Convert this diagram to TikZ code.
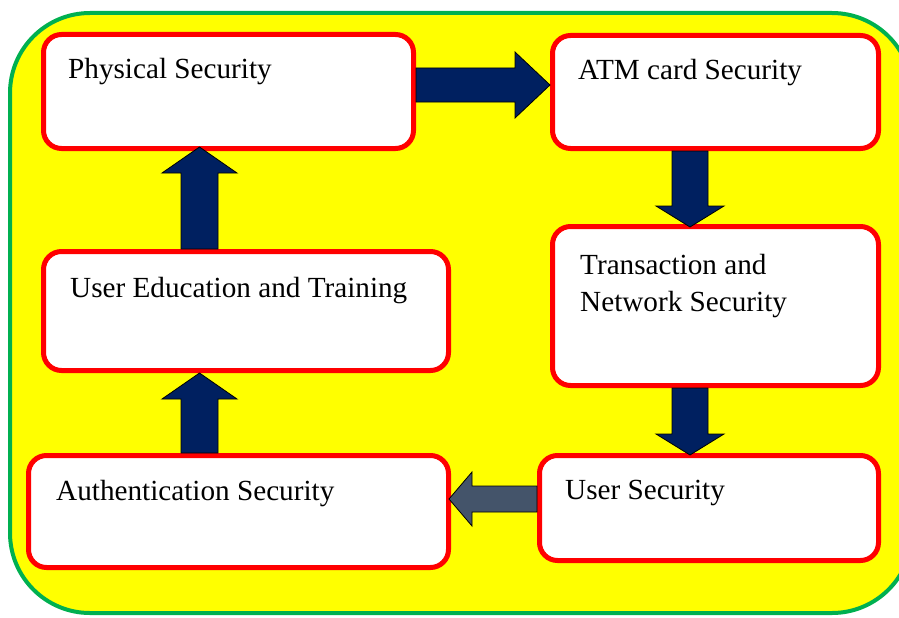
\documentclass[tikz,border=0pt]{standalone}
\usepackage{fontspec}
\setmainfont{Liberation Serif}
\usetikzlibrary{calc}

\definecolor{boxred}{HTML}{FF0000}
\definecolor{framegreen}{HTML}{00B050}
\definecolor{frameyellow}{HTML}{FFFF00}
\definecolor{navyarrow}{HTML}{002060}
\definecolor{slatearrow}{HTML}{44546A}

% fat block arrow: style, tail, tip, half shaft, half head, head length
\newcommand{\bigarrow}[6]{%
  \coordinate (ba-t) at #2;
  \coordinate (ba-p) at #3;
  \coordinate (ba-h) at ($(ba-p)!#6!(ba-t)$);
  \draw[#1] ($(ba-t)!#4!90:(ba-p)$) -- ($(ba-h)!#4!90:(ba-p)$) -- ($(ba-h)!#5!90:(ba-p)$) -- (ba-p)
    -- ($(ba-h)!#5!-90:(ba-p)$) -- ($(ba-h)!#4!-90:(ba-p)$) -- ($(ba-t)!#4!-90:(ba-p)$) -- cycle;
}

\begin{document}
\begin{tikzpicture}[x=1pt,y=-1pt,
  secbox/.style={draw=boxred,fill=white,line width=5pt,rounded corners=18pt,inner sep=0pt},
  seclabel/.style={anchor=base west,inner sep=0pt,font=\fontsize{29.2}{36}\selectfont},
  navy/.style={fill=navyarrow,draw=black,line width=0.8pt},
  slate/.style={fill=slatearrow,draw=black,line width=0.8pt}]
\useasboundingbox (0,0) rectangle (899,618);
\clip (0,0) rectangle (899,618);

% yellow frame, runs off the right edge
\draw[framegreen,fill=frameyellow,line width=4pt,rounded corners=80pt] (10,13) rectangle (912,613);

% security boxes
\node[secbox,minimum width=370,minimum height=114] (phys) at (228.5,91.5) {}; % top left
\node[secbox,minimum width=326,minimum height=113] (atm) at (715.5,92) {}; % top right
\node[secbox,minimum width=326,minimum height=159] (trans) at (715.5,306) {}; % middle right
\node[secbox,minimum width=405,minimum height=119] (edu) at (246,311) {}; % middle left
\node[secbox,minimum width=420,minimum height=112] (auth) at (238.5,511.5) {}; % bottom left
\node[secbox,minimum width=339,minimum height=105] (user) at (709,508) {}; % bottom right

% labels
\node[seclabel] (physt) at (68,78) {Physical Security};
\node[seclabel] (atmt) at (578,80) {ATM card Security};
\node[seclabel] (transt1) at (580,274) {Transaction and};
\node[seclabel] (transt2) at (580,311) {Network Security};
\node[seclabel] (edut) at (70,297) {User Education and Training};
\node[seclabel] (autht) at (56,500) {Authentication Security};
\node[seclabel] (usert) at (565,499) {User Security};

% arrows around the cycle
\bigarrow{navy}{([yshift=6.5pt]phys.east)}{([yshift=7pt]atm.west)}{17pt}{33pt}{35pt}
\bigarrow{navy}{([xshift=-25.5pt]atm.south)}{([xshift=-25.5pt,yshift=-3pt]trans.north)}{18pt}{34pt}{21pt}
\bigarrow{navy}{([xshift=-25.5pt]trans.south)}{([xshift=-19pt,yshift=-2pt]user.north)}{18pt}{34pt}{21pt}
\bigarrow{slate}{([yshift=9pt]user.west)}{([xshift=-2pt,yshift=12.5pt]auth.east)}{13pt}{27pt}{23pt}
\bigarrow{navy}{([xshift=-39pt]auth.north)}{([xshift=-46.5pt]edu.south)}{18.5pt}{37.5pt}{26pt}
\bigarrow{navy}{([xshift=-46.5pt]edu.north)}{([xshift=-29pt,yshift=4pt]phys.south)}{18.5pt}{37.5pt}{26pt}
\end{tikzpicture}
\end{document}
